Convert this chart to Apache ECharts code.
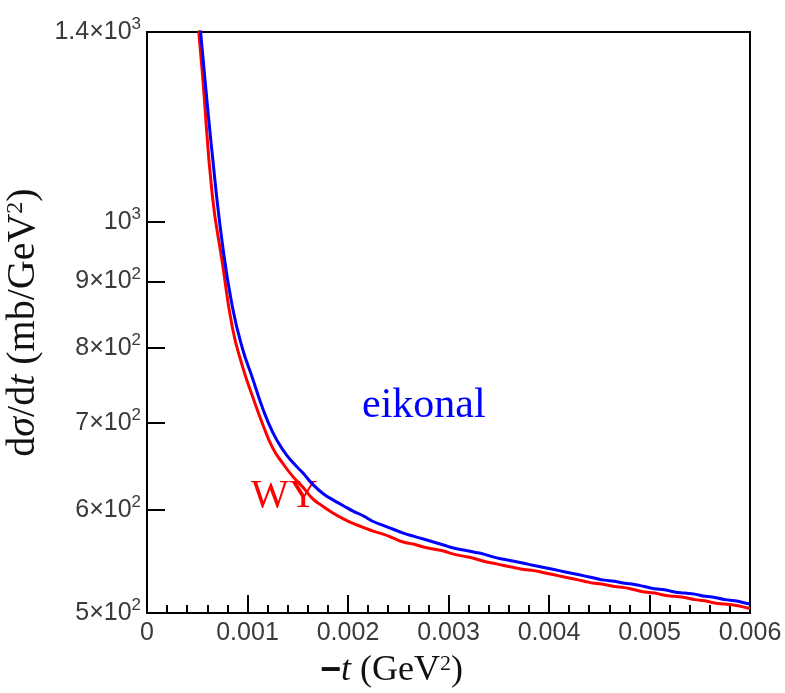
<!DOCTYPE html>
<html>
<head>
<meta charset="utf-8">
<script src="https://cdn.jsdelivr.net/npm/echarts@6/dist/echarts.min.js"></script>
<style>
html,body{margin:0;padding:0;background:#fff;}
#chart{width:785px;height:693px;}
</style>
</head>
<body>
<div id="chart"></div>
<script>
// -t values (GeV^2)
const tValues = [0.00045,0.00055,0.00065,0.00075,0.00085,0.00095,0.00105,0.00115,0.00125,0.00135,
  0.00145,0.00155,0.00165,0.00175,0.00185,0.00195,0.00205,0.00215,0.00225,0.00235,
  0.00245,0.00255,0.00265,0.00275,0.00285,0.00295,0.00305,0.00315,0.00325,0.00335,
  0.00345,0.00355,0.00365,0.00375,0.00385,0.00395,0.00405,0.00415,0.00425,0.00435,
  0.00445,0.00455,0.00465,0.00475,0.00485,0.00495,0.00505,0.00515,0.00525,0.00535,
  0.00545,0.00555,0.00565,0.00575,0.00585,0.00595,0.00600];
// dσ/dt eikonal (mb/GeV^2)
const eikonal = [1650,1356,1126,962,860,799,758,719,689,668,
  653,641,628,618,611,605,599,594,588,584,
  580,576,573,570,567,564,561,559,557,555,
  552,550,548,546,544,542,540,538,536,534,
  532,530,529,527,526,524,522,521,519,518,
  517,515,514,512,511,509,508];
// dσ/dt WY (mb/GeV^2)
const wy = [1600,1304,1048,930,829,774,734,699,670,652,
  637,625,612,604,597,591,586,582,578,575,
  571,567,565,562,560,558,555,553,551,548,
  546,544,542,540,539,537,535,533,531,529,
  527,526,524,523,521,519,518,516,515,514,
  512,511,509,508,507,505,504];
const xTicks = [0,0.001,0.002,0.003,0.004,0.005,0.006];
const yTicks = [500,600,700,800,900,1000,1400];
const yTickLabels = ['5×10{s|2}','6×10{s|2}','7×10{s|2}','8×10{s|2}','9×10{s|2}','10{s|3}','1.4×10{s|3}'];

const chart = echarts.init(document.getElementById('chart'), null, {renderer:'canvas'});
const sans = '"Liberation Sans", Arial, sans-serif';
const serif = '"Liberation Serif", "Times New Roman", serif';

chart.setOption({
  animation:false,
  backgroundColor:'#fff',
  grid:{left:147,right:35,top:32,bottom:80,containLabel:false,outerBoundsMode:'none',
    show:true,borderColor:'#000',borderWidth:2,backgroundColor:'transparent'},
  xAxis:{
    type:'value',min:0,max:0.006,interval:0.001,
    axisLine:{show:true,onZero:false,lineStyle:{color:'#000',width:2}},
    axisTick:{show:true,inside:true,length:18,lineStyle:{color:'#000',width:2}},
    minorTick:{show:true,splitNumber:5,length:8,lineStyle:{color:'#000',width:2}},
    splitLine:{show:false},
    axisLabel:{color:'#3a3a3a',fontFamily:sans,fontSize:25,margin:8,hideOverlap:false,
      formatter:function(v){ const i = xTicks.findIndex(x=>Math.abs(x-v)<1e-9); return i>=0 ? String(xTicks[i]) : ''; }},
    name:'{b|−}{i|t} (GeV{s|2})',
    nameLocation:'middle',nameGap:40,
    nameTextStyle:{fontFamily:serif,fontSize:36,color:'#111',padding:[0,114,0,0],
      rich:{b:{fontFamily:sans,fontWeight:'bold',fontSize:36,color:'#111'},
            i:{fontFamily:serif,fontStyle:'italic',fontSize:36,color:'#111'},
            s:{fontFamily:serif,fontSize:22,verticalAlign:'top',color:'#111',padding:[0,0,14,0]}}}
  },
  yAxis:{
    type:'log',logBase:10,min:500,max:1400,
    axisLine:{show:true,lineStyle:{color:'#000',width:2}},
    axisTick:{show:true,inside:true,length:18,customValues:yTicks,lineStyle:{color:'#000',width:2}},
    minorTick:{show:false},
    splitLine:{show:false},
    axisLabel:{customValues:yTicks,color:'#3a3a3a',fontFamily:sans,fontSize:25,margin:6,hideOverlap:false,
      formatter:function(v){ const i = yTicks.findIndex(y=>Math.abs(y-v)<1e-6); return i>=0 ? yTickLabels[i] : ''; },
      rich:{s:{fontFamily:sans,fontSize:17,color:'#3a3a3a',verticalAlign:'top',padding:[0,0,15,0]}}},
    name:'d{i|σ}/d{i|t} (mb/GeV{s|2})',
    nameLocation:'middle',nameGap:94,nameRotate:90,
    nameTextStyle:{fontFamily:serif,fontSize:40,color:'#111',
      rich:{i:{fontFamily:serif,fontStyle:'italic',fontSize:40,color:'#111'},
            s:{fontFamily:serif,fontSize:24,color:'#111',padding:[0,0,16,0]}}}
  },
  series:[
    {name:'WY',type:'line',showSymbol:false,clip:true,smooth:0.5,
      data:tValues.map((t,i)=>[t,wy[i]]),
      lineStyle:{color:'#ff0000',width:3}},
    {name:'eikonal',type:'line',showSymbol:false,clip:true,smooth:0.5,
      data:tValues.map((t,i)=>[t,eikonal[i]]),
      lineStyle:{color:'#0000ff',width:3}}
  ],
  graphic:[
    {type:'text',left:362,top:385,style:{text:'eikonal',fill:'#0000ff',font:'42px '+serif}},
    {type:'text',left:251,top:476,style:{text:'WY',fill:'#ff0000',font:'40px '+serif,
      shadowColor:'rgba(0,0,0,0.35)',shadowOffsetX:2,shadowOffsetY:2,shadowBlur:2}}
  ]
});
</script>
</body>
</html>
